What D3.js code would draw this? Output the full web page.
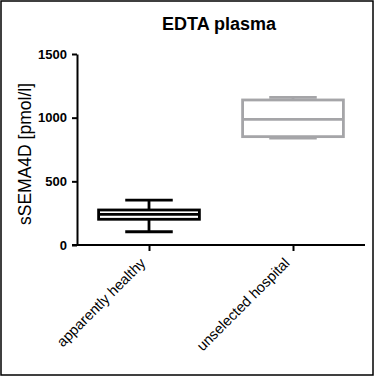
<!DOCTYPE html>
<html>
<head>
<meta charset="utf-8">
<script src="https://cdn.jsdelivr.net/npm/d3@7"></script>
<style>
  body { margin: 0; background: #fff; }
  text { font-family: 'Liberation Sans', Arial, sans-serif; }
</style>
</head>
<body>
<div id="container"></div>
<script>
let width = 376,
  height = 378,
  margin = { top: 54, right: 11, bottom: 133, left: 77 },
  bodyWidth = width - margin.left - margin.right,
  bodyHeight = height - margin.top - margin.bottom

// data (box plot summaries)
let groups = ['apparently healthy', 'unselected hospital']
let mins = [104, 840]
let q1s = [202, 851]
let medians = [241, 987]
let q3s = [275, 1139]
let maxs = [353, 1160]
let colors = ['#000000', '#a5a5a8']
let yTicks = [0, 500, 1000, 1500]

let xScale = d3.scalePoint().domain(groups).range([0, bodyWidth]).padding(0.5),
  yScale = d3.scaleLinear().domain([0, 1500]).range([bodyHeight, 0])

let step = xScale.step(),
  boxW = step * 0.7,
  capW = step * 0.33

let svg = d3.select('#container')
  .append('svg')
  .attr('width', width)
  .attr('height', height)

svg.append('rect')
  .attr('x', 1).attr('y', 1)
  .attr('width', 372).attr('height', 374)
  .attr('fill', 'none')
  .attr('stroke', '#000')
  .attr('stroke-width', 1.5)

let g = svg.append('g')
  .attr('transform', 'translate(' + margin.left + ', ' + margin.top + ')')

// boxes
let box = g.selectAll('.box')
  .data(groups)
  .enter()
  .append('g')
  .attr('class', 'box')
  .attr('transform', d => 'translate(' + xScale(d) + ', 0)')
  .attr('stroke', (d, i) => colors[i])
  .attr('stroke-width', 2.8)
  .attr('fill', 'none')

box.append('line')
  .attr('x1', 0).attr('x2', 0)
  .attr('y1', (d, i) => yScale(maxs[i]))
  .attr('y2', (d, i) => yScale(q3s[i]))
box.append('line')
  .attr('x1', 0).attr('x2', 0)
  .attr('y1', (d, i) => yScale(q1s[i]))
  .attr('y2', (d, i) => yScale(mins[i]))
box.append('line')
  .attr('x1', -capW / 2).attr('x2', capW / 2)
  .attr('y1', (d, i) => yScale(maxs[i]))
  .attr('y2', (d, i) => yScale(maxs[i]))
box.append('line')
  .attr('x1', -capW / 2).attr('x2', capW / 2)
  .attr('y1', (d, i) => yScale(mins[i]))
  .attr('y2', (d, i) => yScale(mins[i]))
box.append('rect')
  .attr('x', -boxW / 2)
  .attr('width', boxW)
  .attr('y', (d, i) => yScale(q3s[i]))
  .attr('height', (d, i) => yScale(q1s[i]) - yScale(q3s[i]))
  .attr('fill', '#fff')
box.append('line')
  .attr('x1', -boxW / 2).attr('x2', boxW / 2)
  .attr('y1', (d, i) => yScale(medians[i]))
  .attr('y2', (d, i) => yScale(medians[i]))

// axes
let xAxis = d3.axisBottom().scale(xScale).tickSize(6).tickSizeOuter(0),
  yAxis = d3.axisLeft().scale(yScale).tickValues(yTicks).tickFormat(d3.format('d')).tickSize(5).tickSizeOuter(0)

let xg = g.append('g')
  .attr('transform', 'translate(0, ' + bodyHeight + ')')
  .call(xAxis)
xg.select('.domain').remove()
xg.append('line')
  .attr('x1', -5).attr('x2', bodyWidth)
  .attr('stroke', '#000').attr('stroke-width', 2)
xg.selectAll('.tick line').attr('stroke-width', 2)
xg.selectAll('.tick text')
  .attr('font-size', 14.5)
  .attr('fill', '#000')
  .attr('text-anchor', 'end')
  .attr('transform', 'translate(-3, 19) rotate(-45)')
  .attr('dy', 0)
  .attr('y', 0)
  .attr('x', 0)

let yg = g.append('g').call(yAxis)
yg.select('.domain').attr('stroke-width', 2)
yg.selectAll('.tick line').attr('stroke-width', 2)
yg.selectAll('.tick text')
  .attr('font-size', 13)
  .attr('font-weight', 'bold')
  .attr('fill', '#000')
  .attr('x', -10)

g.append('text')
  .text('sSEMA4D [pmol/l]')
  .attr('transform', 'rotate(-90)')
  .attr('x', -100)
  .attr('y', -46)
  .attr('text-anchor', 'middle')
  .attr('font-size', 17.5)

svg.append('text')
  .text('EDTA plasma')
  .attr('x', 219)
  .attr('y', 30)
  .attr('text-anchor', 'middle')
  .attr('font-size', 18)
  .attr('font-weight', 'bold')
</script>
</body>
</html>
